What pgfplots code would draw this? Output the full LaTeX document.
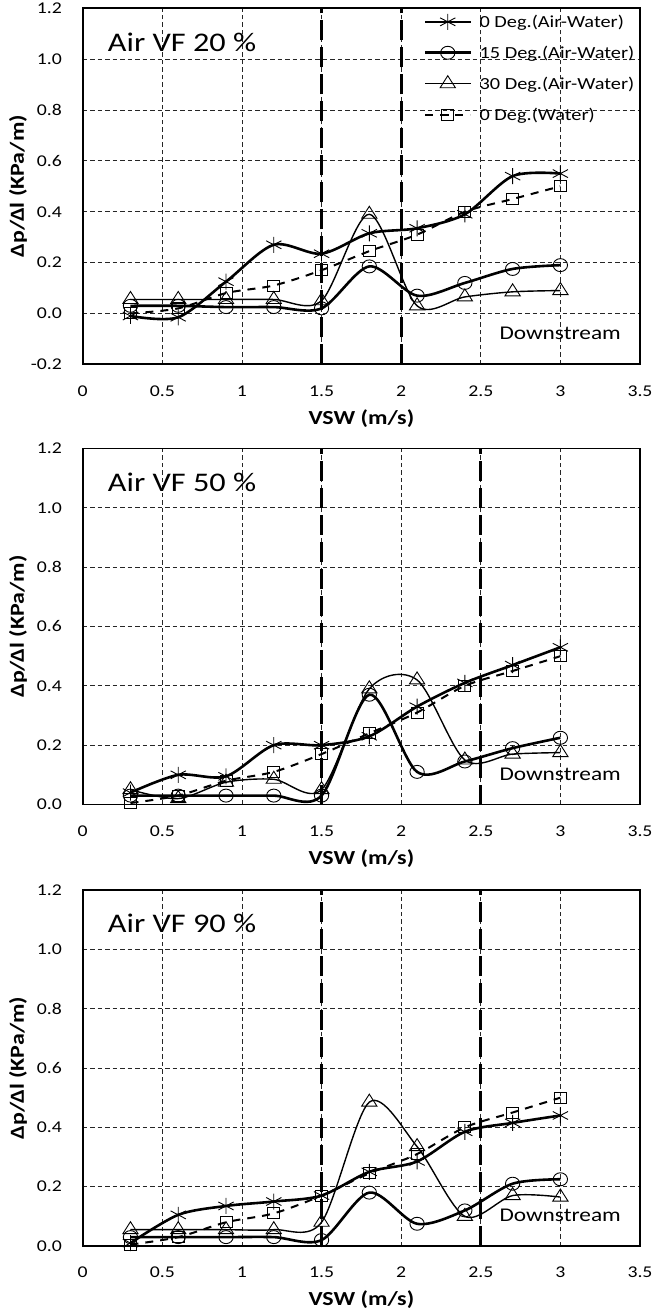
\documentclass[border=0pt]{standalone}
\usepackage{fontspec}
\setmainfont{Carlito}[FakeStretch=1.2]
\usepackage{pgfplots}
\pgfplotsset{compat=1.18}
\pgfplotsset{
  panel/.style={
    scale only axis, width=557.3bp, height=356bp,
    xmin=0, xmax=3.5, xtick={0,0.5,1,1.5,2,2.5,3,3.5},
    ymax=1.2, ytick={-0.2,0,0.2,0.4,0.6,0.8,1.0,1.2},
    /pgf/number format/assume math mode=true,
    yticklabel style={/pgf/number format/fixed, /pgf/number format/fixed zerofill, /pgf/number format/precision=1},
    grid=major,
    major grid style={black!85, line width=0.75bp, dash pattern=on 4.5bp off 3bp},
    axis line style={line width=1.8bp},
    major tick length=0pt,
    tick label style={font=\fontsize{16.5}{18}\selectfont},
    yticklabel style={inner sep=0pt, anchor=east, xshift=-20.7bp},
    xticklabel style={inner sep=0pt, anchor=north, yshift=-21bp},
    xlabel={\textbf{VSW (m/s)}},
    ylabel={\textbf{Δp/Δl (KPa/m)}},
    label style={font=\fontsize{20}{22}\selectfont},
    xlabel style={at={(axis description cs:0.5,-0.1517)}, anchor=center, inner sep=0pt},
    ylabel style={at={(axis description cs:-0.1161,0.5)}, anchor=center, inner sep=0pt},
    clip=false,
  },
  sA0/.style={black, line width=2.6bp, smooth, tension=0.5, mark=asterisk, mark size=8bp,
    mark options={solid, line width=0.9bp, xscale=1.1}},
  sA15/.style={black, line width=2.6bp, smooth, tension=0.5, mark=o, mark size=6.5bp,
    mark options={solid, line width=0.9bp, xscale=1.1}},
  sA30/.style={black, line width=1.4bp, smooth, tension=0.5, mark=triangle, mark size=8bp,
    mark options={solid, line width=0.9bp, xscale=1.1}},
  sW/.style={black, line width=2bp, smooth, tension=0.5, dash pattern=on 8bp off 7bp, mark=square, mark size=5.5bp,
    mark options={solid, line width=0.9bp, xscale=1.1}},
  vline/.style={black, line width=2.8bp, dash pattern=on 20bp off 7bp, forget plot},
}
\newcommand{\titlefont}{\fontsize{27}{30}\selectfont}
\newcommand{\dsfont}{\fontsize{19.5}{22}\selectfont}
\begin{document}
\begin{tikzpicture}
\useasboundingbox (0,0) rectangle (655bp,-1312bp);
% ---------------- Panel 1 ----------------
\begin{axis}[panel, at={(82.7bp,-8.3bp)}, anchor=north west, ymin=-0.2,
  legend style={at={(0.612,0.985)}, anchor=north west, draw=none, fill=none,
    inner sep=0pt, row sep=15bp, column sep=7bp, font=\fontsize{17}{19}\selectfont,
    nodes={inner sep=1bp}},
  legend cell align=left,
  legend image code/.code={\draw[mark repeat=2, mark phase=2, #1] plot coordinates {(0bp,0bp) (22.5bp,0bp) (45bp,0bp)};},
]
\addplot[vline] coordinates {(1.5,-0.2) (1.5,1.2)};
\addplot[vline] coordinates {(2.0,-0.2) (2.0,1.2)};
\addplot[sA0] coordinates {(0.3,-0.01) (0.6,-0.015) (0.9,0.125) (1.2,0.27) (1.5,0.235) (1.8,0.315) (2.1,0.335) (2.4,0.39) (2.7,0.54) (3.0,0.55)};
\addlegendentry{0 Deg.(Air-Water)}
\addplot[sA15] coordinates {(0.3,0.03) (0.6,0.03) (0.9,0.025) (1.2,0.025) (1.5,0.02) (1.8,0.185) (2.1,0.07) (2.4,0.12) (2.7,0.175) (3.0,0.19)};
\addlegendentry{15 Deg.(Air-Water)}
\addplot[sA30] coordinates {(0.3,0.055) (0.6,0.055) (0.9,0.055) (1.2,0.055) (1.5,0.05) (1.8,0.39) (2.1,0.03) (2.4,0.065) (2.7,0.085) (3.0,0.09)};
\addlegendentry{30 Deg.(Air-Water)}
\addplot[sW] coordinates {(0.3,0.0) (0.6,0.02) (0.9,0.08) (1.2,0.11) (1.5,0.17) (1.8,0.245) (2.1,0.31) (2.4,0.40) (2.7,0.45) (3.0,0.50)};
\addlegendentry{0 Deg.(Water)}
\node[anchor=west, inner sep=0pt, font=\titlefont] at (rel axis cs:0.045,0.905) {Air VF 20 \%};
\node[anchor=east, inner sep=0pt, font=\dsfont] at (rel axis cs:0.966,0.086) {Downstream};
\end{axis}
% ---------------- Panel 2 ----------------
\begin{axis}[panel, at={(82.7bp,-448.5bp)}, anchor=north west, ymin=0]
\addplot[vline] coordinates {(1.5,0) (1.5,1.2)};
\addplot[vline] coordinates {(2.5,0) (2.5,1.2)};
\addplot[sA0] coordinates {(0.3,0.04) (0.6,0.10) (0.9,0.095) (1.2,0.20) (1.5,0.20) (1.8,0.23) (2.1,0.33) (2.4,0.41) (2.7,0.47) (3.0,0.53)};
\addplot[sA15] coordinates {(0.3,0.03) (0.6,0.03) (0.9,0.03) (1.2,0.03) (1.5,0.03) (1.8,0.37) (2.1,0.11) (2.4,0.145) (2.7,0.19) (3.0,0.225)};
\addplot[sA30] coordinates {(0.3,0.05) (0.6,0.02) (0.9,0.075) (1.2,0.085) (1.5,0.05) (1.8,0.39) (2.1,0.42) (2.4,0.15) (2.7,0.17) (3.0,0.175)};
\addplot[sW] coordinates {(0.3,0.005) (0.6,0.03) (0.9,0.08) (1.2,0.11) (1.5,0.17) (1.8,0.24) (2.1,0.31) (2.4,0.40) (2.7,0.45) (3.0,0.50)};
\node[anchor=west, inner sep=0pt, font=\titlefont] at (rel axis cs:0.045,0.905) {Air VF 50 \%};
\node[anchor=east, inner sep=0pt, font=\dsfont] at (rel axis cs:0.966,0.086) {Downstream};
\end{axis}
% ---------------- Panel 3 ----------------
\begin{axis}[panel, at={(82.7bp,-890bp)}, anchor=north west, ymin=0]
\addplot[vline] coordinates {(1.5,0) (1.5,1.2)};
\addplot[vline] coordinates {(2.5,0) (2.5,1.2)};
\addplot[sA0] coordinates {(0.3,0.01) (0.6,0.105) (0.9,0.135) (1.2,0.15) (1.5,0.17) (1.8,0.25) (2.1,0.285) (2.4,0.385) (2.7,0.415) (3.0,0.44)};
\addplot[sA15] coordinates {(0.3,0.03) (0.6,0.03) (0.9,0.03) (1.2,0.03) (1.5,0.02) (1.8,0.18) (2.1,0.075) (2.4,0.12) (2.7,0.21) (3.0,0.225)};
\addplot[sA30] coordinates {(0.3,0.055) (0.6,0.055) (0.9,0.055) (1.2,0.055) (1.5,0.08) (1.8,0.485) (2.1,0.335) (2.4,0.10) (2.7,0.17) (3.0,0.165)};
\addplot[sW] coordinates {(0.3,0.005) (0.6,0.03) (0.9,0.08) (1.2,0.11) (1.5,0.17) (1.8,0.245) (2.1,0.31) (2.4,0.40) (2.7,0.45) (3.0,0.50)};
\node[anchor=west, inner sep=0pt, font=\titlefont] at (rel axis cs:0.045,0.905) {Air VF 90 \%};
\node[anchor=east, inner sep=0pt, font=\dsfont] at (rel axis cs:0.966,0.086) {Downstream};
\end{axis}
\end{tikzpicture}
\end{document}
